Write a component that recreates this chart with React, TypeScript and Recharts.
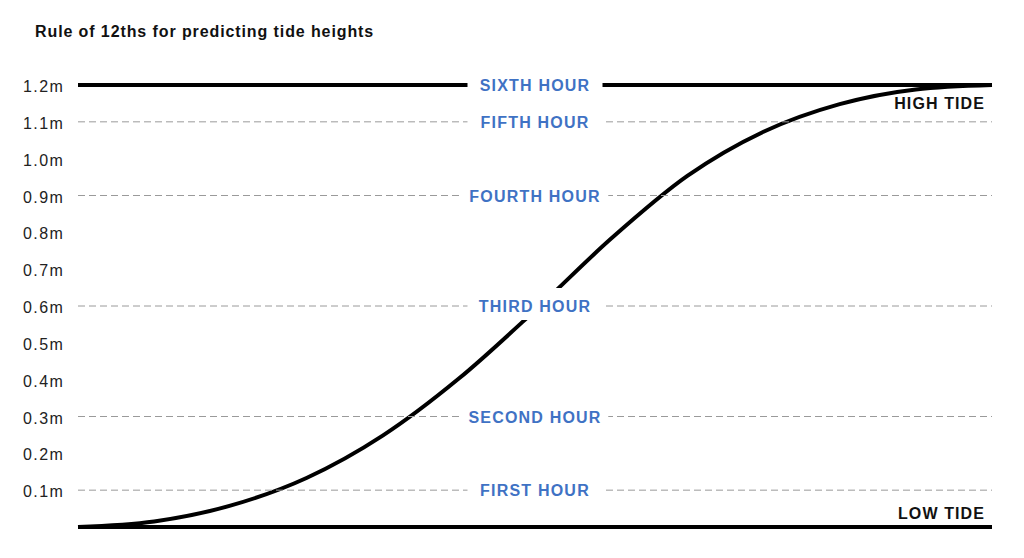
import { LineChart, Line, XAxis, YAxis, ReferenceLine } from 'recharts';

// hours after low water, and tide height in metres
const hours = [0, 0.5, 1, 1.5, 2, 2.5, 3, 3.5, 4, 4.5, 5, 5.5, 6];
const heights = [0, 0.015, 0.058, 0.133, 0.248, 0.403, 0.588, 0.783, 0.953, 1.073, 1.148, 1.188, 1.2];

const yTicks = [0.1, 0.2, 0.3, 0.4, 0.5, 0.6, 0.7, 0.8, 0.9, 1.0, 1.1, 1.2];

const hourNames = ['FIRST HOUR', 'SECOND HOUR', 'THIRD HOUR', 'FOURTH HOUR', 'FIFTH HOUR', 'SIXTH HOUR'];
const hourLevels = [0.1, 0.3, 0.6, 0.9, 1.1, 1.2];

const data = hours.map((h, i) => ({ hour: h, height: heights[i] }));

const FONT = '"Liberation Sans", Arial, sans-serif';
const BLUE = '#3f72c4';

function HourLabel({ viewBox, text, tide }: any) {
  const { x, y, width } = viewBox;
  const cx = x + width / 2;
  const boxW = text.length * 11.5 + 20;
  return (
    <g>
      <rect x={cx - boxW / 2} y={y - 18} width={boxW} height={32} fill="#fff" />
      <text x={cx} y={y} dy={6} textAnchor="middle" fill={BLUE} fontFamily={FONT} fontWeight="bold" fontSize={16} letterSpacing={1.2}>
        {text}
      </text>
      {tide && (
        <text x={x + width - 7} y={y + 18} dy={6} textAnchor="end" fill="#111" fontFamily={FONT} fontWeight="bold" fontSize={16} letterSpacing={1.1}>
          {tide}
        </text>
      )}
    </g>
  );
}

function TideLabel({ viewBox, text }: any) {
  const { x, y, width } = viewBox;
  return (
    <text x={x + width - 7} y={y - 14} dy={6} textAnchor="end" fill="#111" fontFamily={FONT} fontWeight="bold" fontSize={16} letterSpacing={1.1}>
      {text}
    </text>
  );
}

function YTick({ y, payload }: any) {
  return (
    <text x={23} y={y} dy={7} textAnchor="start" fill="#222" fontFamily={FONT} fontSize={16} letterSpacing={1.4}>
      {payload.value.toFixed(1)}m
    </text>
  );
}

export default function App() {
  return (
    <div style={{ position: 'absolute', left: 0, top: 0, width: 1024, height: 558, background: '#fff' }}>
      <div style={{ position: 'absolute', left: 35, top: 23, fontFamily: FONT, fontWeight: 'bold', fontSize: 16, color: '#111', letterSpacing: 0.9 }}>
        Rule of 12ths for predicting tide heights
      </div>
      <LineChart width={1024} height={558} data={data} margin={{ top: 85, right: 32, bottom: 31, left: 0 }}>
        <XAxis type="number" dataKey="hour" domain={[0, 6]} hide />
        <YAxis type="number" domain={[0, 1.2]} ticks={yTicks} width={78} axisLine={false} tickLine={false} tick={<YTick />} interval={0} />
        <Line type="monotone" dataKey="height" stroke="#000" strokeWidth={4} dot={false} isAnimationActive={false} />
        <ReferenceLine y={0} stroke="#000" strokeWidth={4} label={<TideLabel text="LOW TIDE" />} zIndex={2000} />
        {hourLevels.map((lv, i) => (
          <ReferenceLine
            key={lv}
            y={lv}
            zIndex={2000}
            stroke={lv === 1.2 ? '#000' : '#9a9a9a'}
            strokeWidth={lv === 1.2 ? 4 : 1}
            strokeDasharray={lv === 1.2 ? undefined : '7 4'}
            label={<HourLabel text={hourNames[i]} tide={lv === 1.2 ? 'HIGH TIDE' : undefined} />}
          />
        ))}
      </LineChart>
    </div>
  );
}
